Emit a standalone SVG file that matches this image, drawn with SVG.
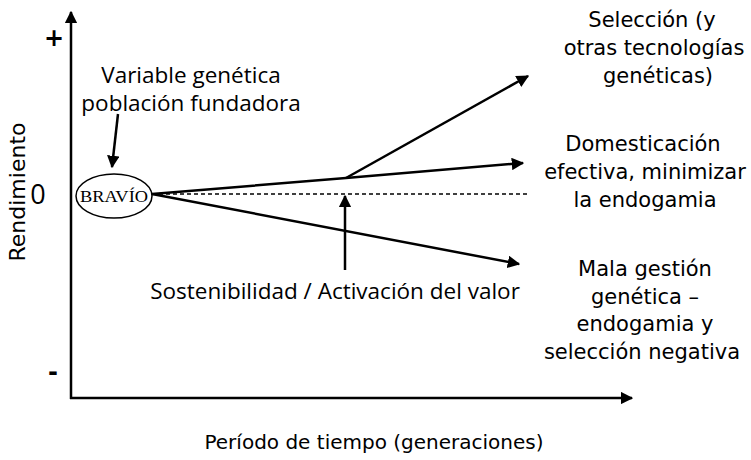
<svg xmlns="http://www.w3.org/2000/svg" width="751" height="460" viewBox="0 0 751 460">
<style>
.ln{stroke:#000;stroke-width:2.5;fill:none}
.s{font-family:"Open Sans","DejaVu Sans",sans-serif;font-size:22.5px;fill:#000;text-anchor:middle}
.c{font-family:"DejaVu Sans","Noto Sans",sans-serif;font-size:21px;fill:#000;text-anchor:middle}
</style>
<defs>
<marker id="ah" viewBox="0 0 10 10" refX="9" refY="5" markerWidth="5" markerHeight="5" orient="auto" markerUnits="strokeWidth">
<path d="M0,0 L10,5 L0,10 z" fill="#000"/>
</marker>
</defs>
<rect width="751" height="460" fill="#fff"/>
<g id="connectors">
<line class="ln" x1="71" y1="399" x2="71" y2="12" marker-end="url(#ah)"/>
<line class="ln" x1="70" y1="398" x2="632" y2="398" marker-end="url(#ah)"/>
<line x1="152" y1="194" x2="528" y2="194" stroke="#000" stroke-width="1.3" stroke-dasharray="4,3"/>
<polyline class="ln" points="152,194 346,178 523,163" marker-end="url(#ah)"/>
<line class="ln" x1="346" y1="178" x2="528" y2="76" marker-end="url(#ah)"/>
<line class="ln" x1="152" y1="194" x2="519" y2="264" marker-end="url(#ah)"/>
<line class="ln" x1="345" y1="270" x2="345" y2="196" marker-end="url(#ah)"/>
<line class="ln" x1="118" y1="114" x2="112" y2="167" marker-end="url(#ah)"/>
</g>
<g id="axis-labels">
<text x="54" y="46" style="font-family:'DejaVu Sans',sans-serif;font-size:24px;font-weight:bold" text-anchor="middle">+</text>
<text x="38" y="204" style="font-family:'Open Sans',sans-serif;font-size:27px" text-anchor="middle">0</text>
<text x="53" y="380" style="font-family:'DejaVu Sans',sans-serif;font-size:24px;font-weight:bold" text-anchor="middle">-</text>
<text class="c" style="font-size:22px" transform="translate(25,192) rotate(-90)">Rendimiento</text>
<text class="c" style="font-size:20px" x="374" y="449">Período de tiempo (generaciones)</text>
</g>
<g id="bravio">
<ellipse cx="114" cy="196" rx="38" ry="22" fill="#fff" stroke="#000" stroke-width="1.5"/>
<text x="114" y="202" font-family="Liberation Serif,serif" font-size="16" text-anchor="middle" textLength="68" lengthAdjust="spacingAndGlyphs">BRAVÍO</text>
</g>
<g id="fundadora">
<text class="s" x="191" y="83">Variable genética</text>
<text class="s" x="191" y="111">población fundadora</text>
</g>
<g id="sostenibilidad">
<text class="s" x="335" y="299">Sostenibilidad / Activación del valor</text>
</g>
<g id="seleccion">
<text class="c" x="652" y="27">Selección (y</text>
<text class="c" x="654" y="55">otras tecnologías</text>
<text class="c" x="658" y="83">genéticas)</text>
</g>
<g id="domesticacion">
<text class="c" x="643" y="151">Domesticación</text>
<text class="c" x="645" y="179">efectiva, minimizar</text>
<text class="c" x="645" y="207">la endogamia</text>
</g>
<g id="mala">
<text class="c" x="645" y="276">Mala gestión</text>
<text class="c" x="645" y="304">genética –</text>
<text class="c" x="645" y="331">endogamia y</text>
<text class="c" x="642" y="359">selección negativa</text>
</g>
</svg>
